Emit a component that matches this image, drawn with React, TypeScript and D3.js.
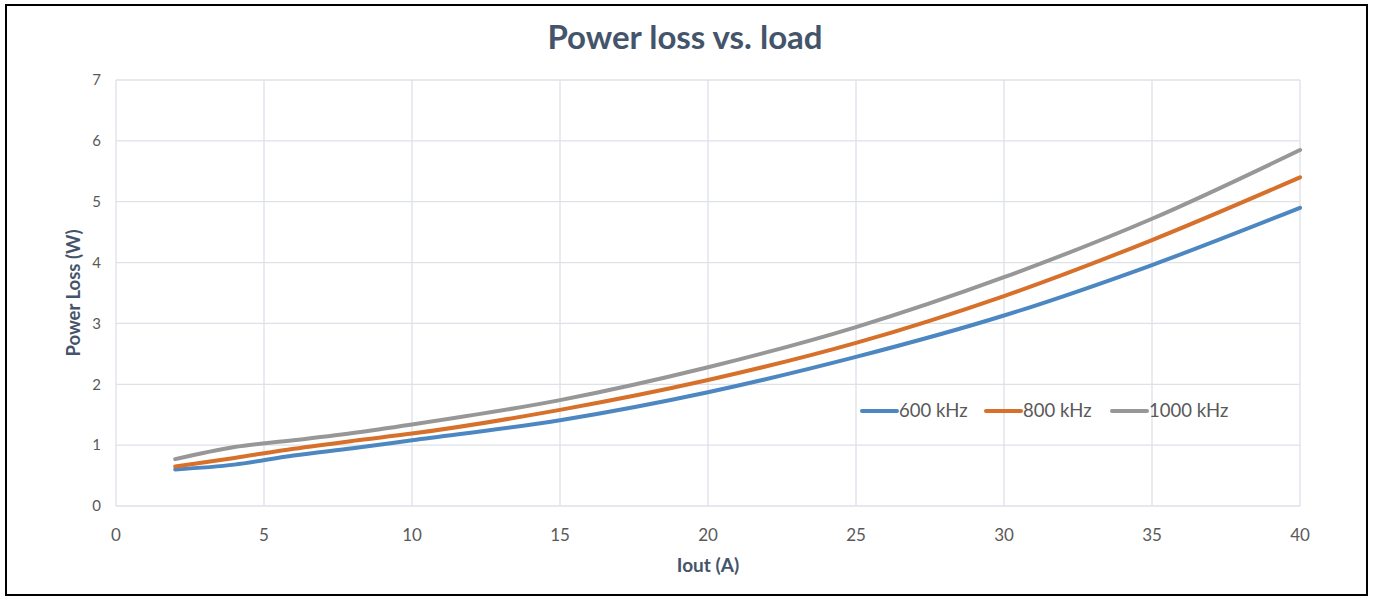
import React from "react";
import * as d3 from "d3";

const iout = [2, 4, 6, 8, 10, 15, 20, 25, 30, 35, 40];
const loss600 = [0.6, 0.68, 0.83, 0.95, 1.08, 1.41, 1.87, 2.45, 3.13, 3.96, 4.9];
const loss800 = [0.65, 0.79, 0.94, 1.07, 1.19, 1.58, 2.07, 2.68, 3.45, 4.37, 5.4];
const loss1000 = [0.77, 0.97, 1.08, 1.2, 1.34, 1.74, 2.28, 2.94, 3.76, 4.72, 5.85];
const seriesNames = ["600 kHz", "800 kHz", "1000 kHz"];
const seriesColors = ["#4d87c1", "#d6702b", "#979797"];
const xTicks = [0, 5, 10, 15, 20, 25, 30, 35, 40];
const yTicks = [0, 1, 2, 3, 4, 5, 6, 7];

export default function App() {
  const W = 1373, H = 605;
  const left = 116, right = 1300, top = 80, bottom = 506;
  const x = d3.scaleLinear().domain([0, 40]).range([left, right]);
  const y = d3.scaleLinear().domain([0, 7]).range([bottom, top]);
  const line = d3
    .line<[number, number]>()
    .x((d) => x(d[0]))
    .y((d) => y(d[1]))
    .curve(d3.curveMonotoneX);
  const all = [loss600, loss800, loss1000];
  const font = "Lato, 'Open Sans', sans-serif";
  const legendX = [862, 986, 1112];
  const legendY = 411;
  return (
    <svg width={W} height={H} style={{ position: "absolute", left: 0, top: 0, fontFamily: font }}>
      <rect x={0} y={0} width={W} height={H} fill="#fff" />
      <rect x={6} y={5} width={1361} height={590} fill="#fff" stroke="#000" strokeWidth={2} />
      {yTicks.map((t) => (
        <line key={"gy" + t} x1={left} x2={right} y1={y(t)} y2={y(t)} stroke="#dde1e8" strokeWidth={1.3} />
      ))}
      {xTicks.map((t) => (
        <line key={"gx" + t} x1={x(t)} x2={x(t)} y1={top} y2={bottom} stroke="#dde1e8" strokeWidth={1.3} />
      ))}
      {yTicks.map((t) => (
        <text key={"ty" + t} x={101} y={y(t)} dy="0.35em" textAnchor="end" fontSize={15} fill="#595959">
          {t}
        </text>
      ))}
      {xTicks.map((t) => (
        <text key={"tx" + t} x={x(t)} y={535} dy="0.35em" textAnchor="middle" fontSize={17} fill="#595959">
          {t}
        </text>
      ))}
      <text x={685} y={49} textAnchor="middle" fontSize={33} fontWeight="bold" fill="#44546a">
        Power loss vs. load
      </text>
      <text x={708} y={565} dy="0.35em" textAnchor="middle" fontSize={19} fontWeight="bold" fill="#44546a">
        Iout (A)
      </text>
      <text
        transform={`translate(74,293) rotate(-90)`}
        dy="0.35em"
        textAnchor="middle"
        fontSize={18.5}
        fontWeight="bold"
        fill="#44546a"
      >
        Power Loss (W)
      </text>
      {all.map((vals, i) => (
        <path
          key={"s" + i}
          d={line(iout.map((v, j) => [v, vals[j]] as [number, number])) || ""}
          fill="none"
          stroke={seriesColors[i]}
          strokeWidth={4}
          strokeLinecap="round"
        />
      ))}
      {seriesNames.map((n, i) => (
        <g key={"lg" + i}>
          <line
            x1={legendX[i]}
            x2={legendX[i] + 35}
            y1={legendY}
            y2={legendY}
            stroke={seriesColors[i]}
            strokeWidth={4}
            strokeLinecap="round"
          />
          <text x={legendX[i] + 37} y={legendY} dy="0.35em" fontSize={18.5} fill="#595959">
            {n}
          </text>
        </g>
      ))}
    </svg>
  );
}
